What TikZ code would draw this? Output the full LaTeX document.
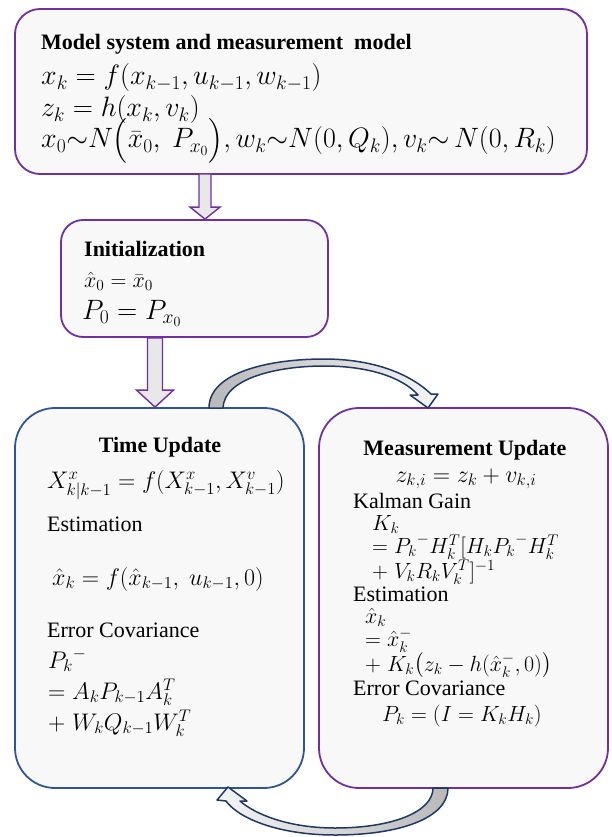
\RequirePackage{fix-cm}
\documentclass[tikz,border=0pt]{standalone}
\usepackage{amsmath}
\usepackage[no-math]{fontspec}
\setmainfont{Liberation Serif}
\usetikzlibrary{calc}
\definecolor{purp}{HTML}{7030A0}
\definecolor{bluB}{HTML}{2F5597}
\definecolor{boxfill}{HTML}{F8F8F8}
\definecolor{navy}{HTML}{1F3864}
\definecolor{arrfill}{HTML}{E8E8E8}
\begin{document}
\begin{tikzpicture}[x=1pt,y=-1pt,
  box/.style={draw=purp, line width=1.8pt, fill=boxfill, rounded corners=#1, inner sep=0pt},
  box/.default=25pt,
  txt/.style={anchor=base west, inner sep=0pt, font=\fontsize{22}{26}\selectfont},
  ttl/.style={anchor=base west, inner sep=0pt, font=\fontsize{22}{26}\selectfont\bfseries},
  mA/.style={anchor=base west, inner sep=0pt, font=\fontsize{28}{32}\selectfont},
  mB/.style={anchor=base west, inner sep=0pt, font=\fontsize{24}{28}\selectfont},
  mC/.style={anchor=base west, inner sep=0pt, font=\fontsize{22}{26}\selectfont},
  mD/.style={anchor=base west, inner sep=0pt, font=\fontsize{22}{26}\selectfont},
  barrow/.style={draw=purp, line width=1.4pt, fill=arrfill, line join=miter},
  carrow/.style={draw=navy, line width=1.5pt, line join=round}
]
\useasboundingbox (0,0) rectangle (612,837);

% boxes
\node[box, minimum width=572pt, minimum height=165pt] (model) at (301,91.5) {};
\node[box=22pt, minimum width=267pt, minimum height=117pt] (init) at (194.5,278.5) {};
\node[box=40pt, draw=bluB, minimum width=289pt, minimum height=380pt] (time) at (159.5,598) {};
\node[box=40pt, minimum width=289pt, minimum height=380pt] (meas) at (463.5,598) {};

% straight block arrows
\coordinate (a1top) at (205,174);
\coordinate (a1tip) at (a1top |- init.north);
\draw[barrow] let \p1=(a1top), \p2=(a1tip) in
  (\x1-6pt,\y1) -- (\x1-6pt,\y2+12pt) -- (\x1-15pt,\y2+12pt) -- (\x2,\y2)
  -- (\x1+15pt,\y2+12pt) -- (\x1+6pt,\y2+12pt) -- (\x1+6pt,\y1) -- cycle;
\coordinate (a2x) at (155,0);
\coordinate (a2top) at (a2x |- init.south);
\coordinate (a2tip) at (a2x |- time.north);
\draw[barrow] let \p1=(a2top), \p2=(a2tip) in
  (\x1-7.5pt,\y1) -- (\x1-7.5pt,\y2+17pt) -- (\x1-18.5pt,\y2+17pt) -- (\x2,\y2)
  -- (\x1+18.5pt,\y2+17pt) -- (\x1+7.5pt,\y2+17pt) -- (\x1+7.5pt,\y1) -- cycle;

% curved arrows
\draw[carrow, left color=gray!55, right color=gray!8]
  (209,408) .. controls (209,372) and (270,359) .. (324,359)
  .. controls (370,359) and (408,372) .. (431,394) -- (438,394) -- (428,408)
  -- (410,395) -- (418,395) .. controls (402,377) and (368,366) .. (324,366)
  .. controls (278,366) and (224,378) .. (223,408) -- cycle;
\draw[carrow, left color=gray!8, right color=gray!55]
  (448,788) .. controls (448,818) and (400,835) .. (335,835)
  .. controls (282,835) and (240,820) .. (226,801) -- (217,800) -- (228,787)
  -- (247,801) -- (240,801) .. controls (256,815) and (290,828) .. (335,828)
  .. controls (392,828) and (433,812) .. (433,788) -- cycle;

% model box text
\node[ttl] (mt) at (41,50) {Model system and measurement~ model};
\node[mA] (m1) at (41,85) {$x_k = f(x_{k-1},u_{k-1},w_{k-1})$};
\node[mA] (m2) at (41,117) {$z_k = h(x_k,v_k)$};
\node[mA] (m3) at (41,148) {$x_0{\sim}N\bigl(\bar{x}_0,\ P_{x_0}\bigr), w_k{\sim}N(0,Q_k), v_k{\sim}\,N(0,R_k)$};

% init box text
\node[ttl] (it) at (84,256) {Initialization};
\node[mD] (i1) at (84,287) {$\hat{x}_0 = \bar{x}_0$};
\node[mA] (i2) at (82,319) {$P_0 = P_{x_0}$};

% time update text
\node[ttl, anchor=base] (tt) at (160,452) {Time Update};
\node[mB] (t1) at (47,488) {$X^{x}_{k|k-1} = f(X^{x}_{k-1},X^{v}_{k-1})$};
\node[txt] (t2) at (47,531) {Estimation};
\node[mB] (t3) at (52,585) {$\hat{x}_k = f(\hat{x}_{k-1},\ u_{k-1},0)$};
\node[txt] (t4) at (47,637) {Error Covariance};
\node[mB] (t5) at (48,668) {${P_k}^{-}$};
\node[mB] (t6) at (48,699) {$=A_kP_{k-1}A_k^T$};
\node[mB] (t7) at (48,730) {$+\;W_kQ_{k-1}W_k^T$};

% measurement update text
\node[ttl, anchor=base] (mu) at (465,455) {Measurement Update};
\node[mB, anchor=base] (u1) at (466,482) {$z_{k,i} = z_k + v_{k,i}$};
\node[txt] (u2) at (353,508) {Kalman Gain};
\node[mC] (u3) at (372,530) {$K_k$};
\node[mC] (u4) at (372,553) {$={P_k}^{-}H_k^T[H_k{P_k}^{-}H_k^T$};
\node[mC] (u5) at (372,578) {$+\;V_kR_kV_k^T]^{-1}$};
\node[txt] (u6) at (353,601) {Estimation};
\node[mC] (u7) at (365,623) {$\hat{x}_k$};
\node[mC] (u8) at (365,646) {$={\hat{x}_k}^{-}$};
\node[mC] (u9) at (365,671) {$+\;K_k\bigl(z_k - h({\hat{x}_k}^{-},0)\bigr)$};
\node[txt] (u10) at (353,695) {Error Covariance};
\node[mC] (u11) at (382,721) {$P_k = (I = K_kH_k)$};
\end{tikzpicture}
\end{document}
